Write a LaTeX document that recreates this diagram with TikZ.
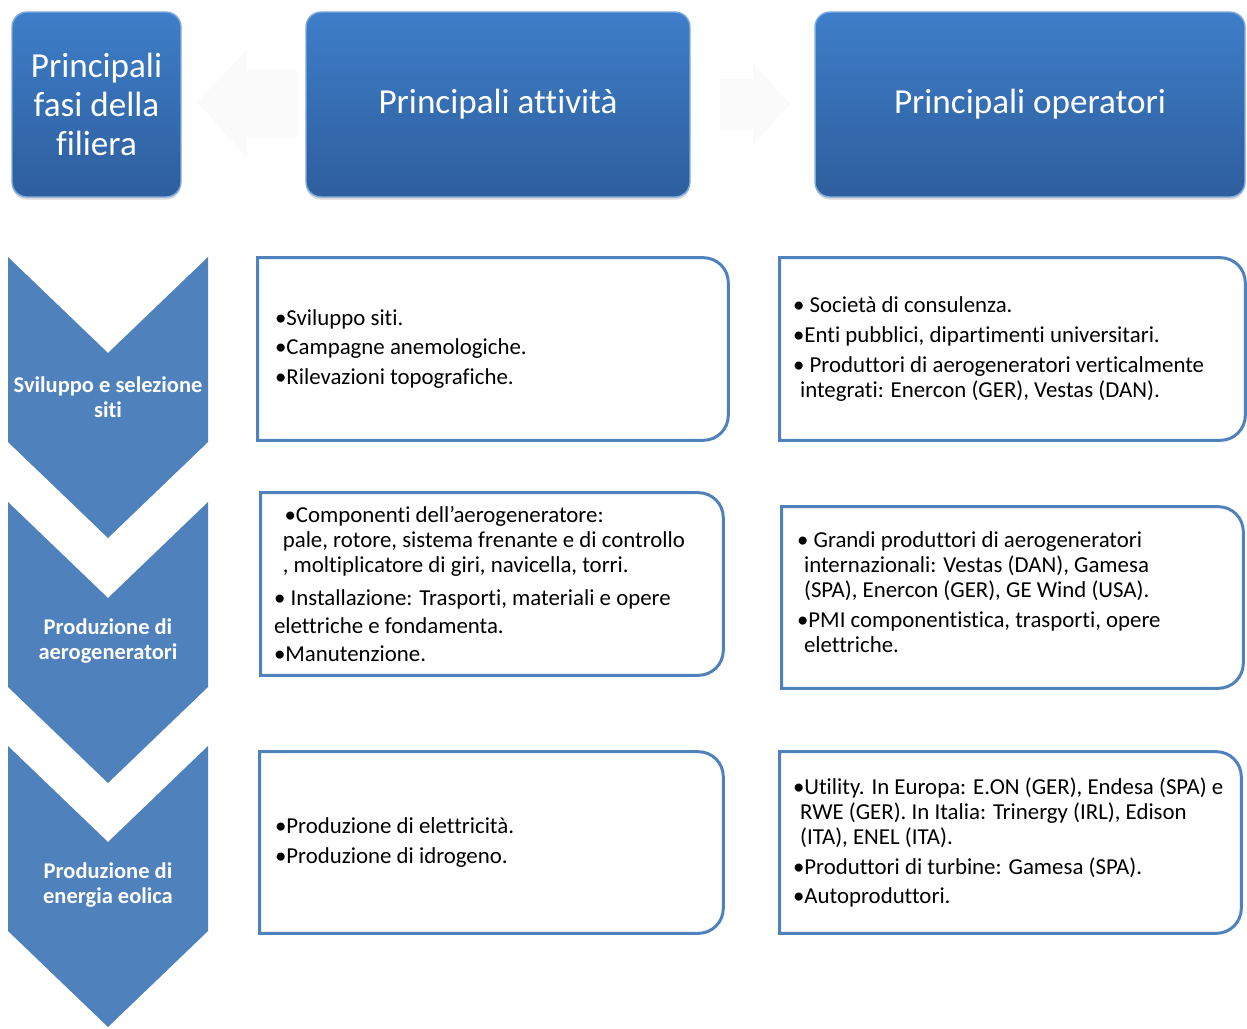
\documentclass[tikz,border=0pt]{standalone}
\usepackage{fontspec}
\setmainfont{Carlito}[Ligatures={NoCommon,NoContextual}]
\usetikzlibrary{shadows}
\definecolor{hdtop}{RGB}{62,126,201}
\definecolor{hdbot}{RGB}{46,94,157}
\definecolor{hdedge}{RGB}{125,170,222}
\definecolor{obblue}{RGB}{79,129,189}
\definecolor{faint}{RGB}{250,250,250}
\newcommand\roundframe[1]{%
  \draw[boxline] (#1.north west) -- ([xshift=-0.5cm]#1.north east)
    arc[start angle=90,end angle=0,radius=0.5cm] -- ([yshift=0.5cm]#1.south east)
    arc[start angle=0,end angle=-90,radius=0.5cm] -- (#1.south west) -- cycle;}
\begin{document}
\begin{tikzpicture}[x=0.02cm,y=0.02cm,
  header/.style={rounded corners=0.3cm, top color=hdtop, bottom color=hdbot,
    draw=hdedge, line width=0.8pt, text=white, align=center,
    font=\fontsize{20}{22}\selectfont, inner sep=0pt,
    drop shadow={shadow xshift=0pt, shadow yshift=-1.5pt, opacity=0.3}},
  chev/.style={fill=obblue, draw=none},
  chevlabel/.style={text=white, align=center, font=\bfseries\fontsize{12.8}{14.2}\selectfont, inner sep=0pt},
  boxframe/.style={draw=none, inner sep=0pt},
  boxline/.style={draw=obblue, line width=1.7pt, fill=white},
  boxtext/.style={anchor=west, align=left, inner sep=0pt, font=\fontsize{13}{14.2}\selectfont},
  ghost/.style={fill=faint, draw=none}]
\useasboundingbox (0,0) rectangle (1247,-1028);

% faint arrows between headers
\fill[ghost] (197,-102) -- (247,-50) -- (247,-70) -- (297,-70) -- (297,-138) -- (247,-138) -- (247,-158) -- cycle;
\fill[ghost] (790,-104) -- (753,-63) -- (753,-79) -- (720,-79) -- (720,-130) -- (753,-130) -- (753,-145) -- cycle;

% headers
\node[header, minimum width=3.38cm, minimum height=3.7cm] (h1) at (96.5,-104.5) {Principali\\fasi della\\filiera};
\node[header, minimum width=7.68cm, minimum height=3.7cm] (h2) at (498,-104.5) {Principali attività};
\node[header, minimum width=8.6cm, minimum height=3.7cm] (h3) at (1030,-104.5) {Principali operatori};

% chevrons
\fill[chev] (8,-257) -- (108,-353) -- (208,-257) -- (208,-442) -- (108,-538) -- (8,-442) -- cycle;
\fill[chev] (8,-502) -- (108,-598) -- (208,-502) -- (208,-687) -- (108,-783) -- (8,-687) -- cycle;
\fill[chev] (8,-746) -- (108,-842) -- (208,-746) -- (208,-931) -- (108,-1027) -- (8,-931) -- cycle;
\node[chevlabel] (c1) at (108,-397) {Sviluppo e selezione\\siti};
\node[chevlabel] (c2) at (108,-641) {Produzione di\\aerogeneratori};
\node[chevlabel] (c3) at (108,-885) {Produzione di\\energia eolica};

% row 1
\node[boxframe, minimum width=9.4cm, minimum height=3.64cm] (a1box) at (493,-349) {};
\roundframe{a1box}
\node[boxtext] (a1) at ([xshift=0.34cm]a1box.west)
 {\textbullet Sviluppo siti.\\[2.5pt]
  \textbullet Campagne anemologiche.\\[2.5pt]
  \textbullet Rilevazioni topografiche.};

\node[boxframe, minimum width=9.3cm, minimum height=3.64cm] (b1box) at (1012.5,-349) {};
\roundframe{b1box}
\node[boxtext] (b1) at ([xshift=0.26cm]b1box.west)
 {\textbullet\ Società di consulenza.\\[2.8pt]
  \textbullet Enti pubblici, dipartimenti universitari.\\[2.8pt]
  \textbullet\ Produttori di aerogeneratori verticalmente\\
  \hspace*{4pt}integrati: Enercon (GER), Vestas (DAN).};

% row 2
\node[boxframe, minimum width=9.24cm, minimum height=3.64cm] (a2box) at (492,-584) {};
\roundframe{a2box}
\node[boxtext] (a2) at ([xshift=0.26cm]a2box.west)
 {\hspace*{6pt}\textbullet Componenti dell’aerogeneratore:\\
  \hspace*{5pt}pale, rotore, sistema frenante e di controllo\\
  \hspace*{5pt}, moltiplicatore di giri, navicella, torri.\\[4.5pt]
  \textbullet\ Installazione: Trasporti, materiali e opere\\[1.7pt]
  elettriche e fondamenta.\\[1.7pt]
  \textbullet Manutenzione.};

\node[boxframe, minimum width=9.22cm, minimum height=3.62cm] (b2box) at (1012.5,-597.5) {};
\roundframe{b2box}
\node[boxtext] (b2) at ([xshift=0.3cm,yshift=0.1cm]b2box.west)
 {\textbullet\ Grandi produttori di aerogeneratori\\
  \hspace*{4pt}internazionali: Vestas (DAN), Gamesa\\
  \hspace*{4pt}(SPA), Enercon (GER), GE Wind (USA).\\[2.8pt]
  \textbullet PMI componentistica, trasporti, opere\\
  \hspace*{4pt}elettriche.};

% row 3
\node[boxframe, minimum width=9.26cm, minimum height=3.62cm] (a3box) at (491.5,-842.5) {};
\roundframe{a3box}
\node[boxtext] (a3) at ([xshift=0.3cm]a3box.west)
 {\textbullet Produzione di elettricità.\\[2.5pt]
  \textbullet Produzione di idrogeno.};

\node[boxframe, minimum width=9.22cm, minimum height=3.62cm] (b3box) at (1010.5,-842.5) {};
\roundframe{b3box}
\node[boxtext] (b3) at ([xshift=0.26cm]b3box.west)
 {\textbullet Utility. In Europa: E.ON (GER), Endesa (SPA) e\\
  \hspace*{4pt}RWE (GER). In Italia: Trinergy (IRL), Edison\\
  \hspace*{4pt}(ITA), ENEL (ITA).\\[2.8pt]
  \textbullet Produttori di turbine: Gamesa (SPA).\\[2.3pt]
  \textbullet Autoproduttori.};
\end{tikzpicture}
\end{document}
